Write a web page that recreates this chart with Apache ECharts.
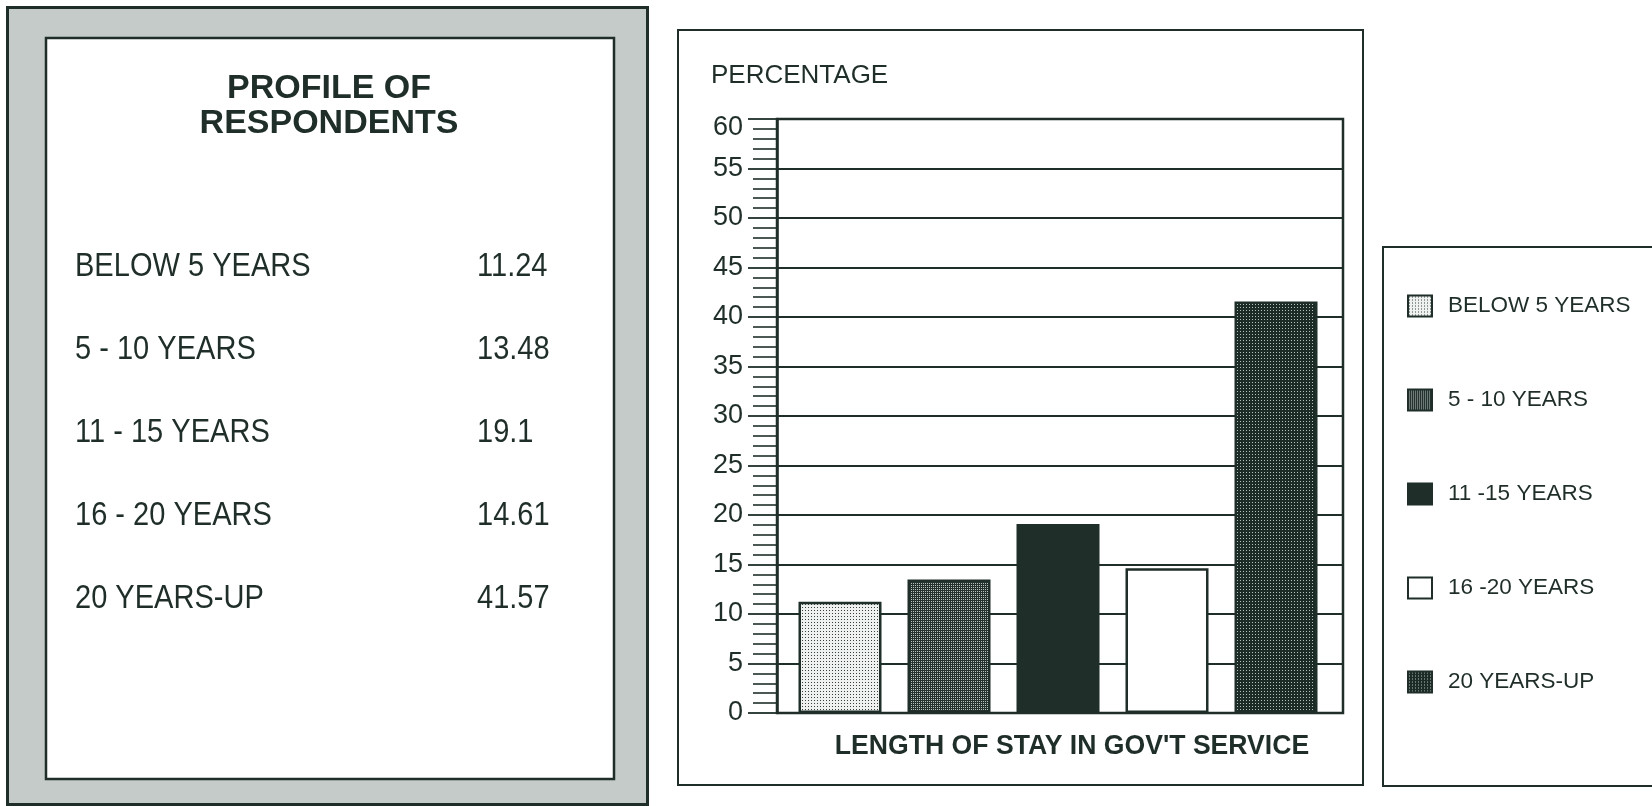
<!DOCTYPE html>
<html>
<head>
<meta charset="utf-8">
<title>Profile of Respondents</title>
<script src="https://cdn.jsdelivr.net/npm/echarts@6/dist/echarts.min.js"></script>
<style>
  html, body { margin: 0; padding: 0; background: #ffffff; }
  #chart { width: 1652px; height: 806px; }
</style>
</head>
<body>
<div id="chart"></div>
<script>
// Length of stay in government service, % of respondents
const categories = ['BELOW 5 YEARS', '5 - 10 YEARS', '11 - 15 YEARS', '16 - 20 YEARS', '20 YEARS-UP'];
const legendNames = ['BELOW 5 YEARS', '5 - 10 YEARS', '11 -15 YEARS', '16 -20 YEARS', '20 YEARS-UP'];
const percentages = [11.24, 13.48, 19.1, 14.61, 41.57];

// Value axis ticks
const yMin = 0;
const yMax = 60;
const yStep = 5;

const ink = '#1f2e29';
const sans = '"Liberation Sans", Arial, sans-serif';

// Small halftone tiles used as bar fills
function halftone(size, bg, dot, cells) {
  const c = document.createElement('canvas');
  c.width = size; c.height = size;
  const g = c.getContext('2d');
  g.fillStyle = bg; g.fillRect(0, 0, size, size);
  g.fillStyle = dot;
  cells.forEach(([x, y]) => g.fillRect(x, y, 1, 1));
  return { image: c, repeat: 'repeat' };
}

const fills = [
  halftone(3, '#eef1ef', '#33413c', [[1, 1]]),
  halftone(2, '#24332e', '#b9c2be', [[1, 1]]),
  ink,
  '#ffffff',
  halftone(3, '#1c2b26', '#b7c0bc', [[1, 1]])
];

const chart = echarts.init(document.getElementById('chart'), null, { renderer: 'canvas' });

// Table of respondents on the left
const tableGraphics = [];
categories.forEach((name, i) => {
  const y = 267 + i * 83;
  tableGraphics.push({
    type: 'text', x: 75, y: y, scaleX: 0.88,
    style: { text: name, font: '33px ' + sans, fill: ink, align: 'left', verticalAlign: 'middle' }
  });
  tableGraphics.push({
    type: 'text', x: 477, y: y, scaleX: 0.88,
    style: { text: String(percentages[i]), font: '33px ' + sans, fill: ink, align: 'left', verticalAlign: 'middle' }
  });
});

const series = legendNames.map((name, i) => ({
  name: name,
  type: 'bar',
  xAxisIndex: 1,
  yAxisIndex: 1,
  barWidth: 83,
  barGap: '-100%',
  data: percentages.map((v, j) => (j === i ? v : '-')),
  itemStyle: { color: fills[i], borderColor: ink, borderWidth: 2.5 },
  emphasis: { disabled: true }
}));

const option = {
  animation: false,
  backgroundColor: '#ffffff',
  textStyle: { fontFamily: sans, color: ink },
  grid: [
    { left: 777, top: 119, width: 566, height: 594, show: true, borderColor: ink, borderWidth: 2.5, backgroundColor: 'transparent' },
    { left: 785.5, top: 119, width: 545, height: 594 }
  ],
  xAxis: [
    { gridIndex: 0, type: 'category', data: categories, show: false },
    { gridIndex: 1, type: 'category', data: categories, boundaryGap: true,
      axisLine: { show: false }, axisTick: { show: false }, axisLabel: { show: false }, splitLine: { show: false } }
  ],
  yAxis: [
    {
      gridIndex: 0, type: 'value', min: yMin, max: yMax, interval: yStep,
      axisLine: { show: true, lineStyle: { color: ink, width: 2.5 } },
      axisTick: { show: true, inside: false, length: 29, lineStyle: { color: ink, width: 1.8 } },
      minorTick: { show: true, splitNumber: 5, length: 24, lineStyle: { color: ink, width: 1.6 } },
      splitLine: { show: true, lineStyle: { color: ink, width: 2 } },
      axisLabel: {
        margin: 34, fontSize: 27, color: ink, fontFamily: sans,
        formatter: v => (v === yMax ? '{top|' + v + '}' : String(v)),
        rich: { top: { fontSize: 27, fontFamily: sans, color: ink, padding: [18, 0, 0, 0] } }
      }
    },
    { gridIndex: 1, type: 'value', min: yMin, max: yMax, interval: yStep, show: false, splitLine: { show: false } }
  ],
  legend: {
    orient: 'vertical',
    left: 1407, top: 292,
    padding: 0,
    itemWidth: 24, itemHeight: 21, itemGap: 66,
    icon: 'rect',
    selectedMode: false,
    textStyle: { fontFamily: sans, fontSize: 22.5, lineHeight: 28, color: ink, padding: [0, 0, 0, 11] },
    data: legendNames
  },
  series: series,
  graphic: [
    // left panel frame
    { type: 'rect', z: -10, shape: { x: 7.5, y: 7.5, width: 640, height: 797 }, style: { fill: '#c5cbc9', stroke: ink, lineWidth: 3 } },
    { type: 'rect', z: -9, shape: { x: 46, y: 38, width: 568, height: 741 }, style: { fill: '#ffffff', stroke: ink, lineWidth: 2.5 } },
    { type: 'text', x: 329, y: 89, style: { text: 'PROFILE OF', font: 'bold 34px ' + sans, fill: ink, align: 'center', verticalAlign: 'middle' } },
    { type: 'text', x: 329, y: 124, style: { text: 'RESPONDENTS', font: 'bold 34px ' + sans, fill: ink, align: 'center', verticalAlign: 'middle' } },
    ...tableGraphics,
    // chart frame and legend frame
    { type: 'rect', shape: { x: 678, y: 30, width: 685, height: 755 }, style: { fill: 'none', stroke: ink, lineWidth: 2 } },
    { type: 'rect', shape: { x: 1383, y: 247, width: 300, height: 539 }, style: { fill: 'none', stroke: ink, lineWidth: 2 } },
    { type: 'text', x: 711, y: 76, style: { text: 'PERCENTAGE', font: '26px ' + sans, fill: ink, align: 'left', verticalAlign: 'middle' } },
    { type: 'text', x: 1072, y: 746, scaleX: 0.95, style: { text: "LENGTH OF STAY IN GOV'T SERVICE", font: 'bold 28px ' + sans, fill: ink, align: 'center', verticalAlign: 'middle' } }
  ]
};

chart.setOption(option);
</script>
</body>
</html>
